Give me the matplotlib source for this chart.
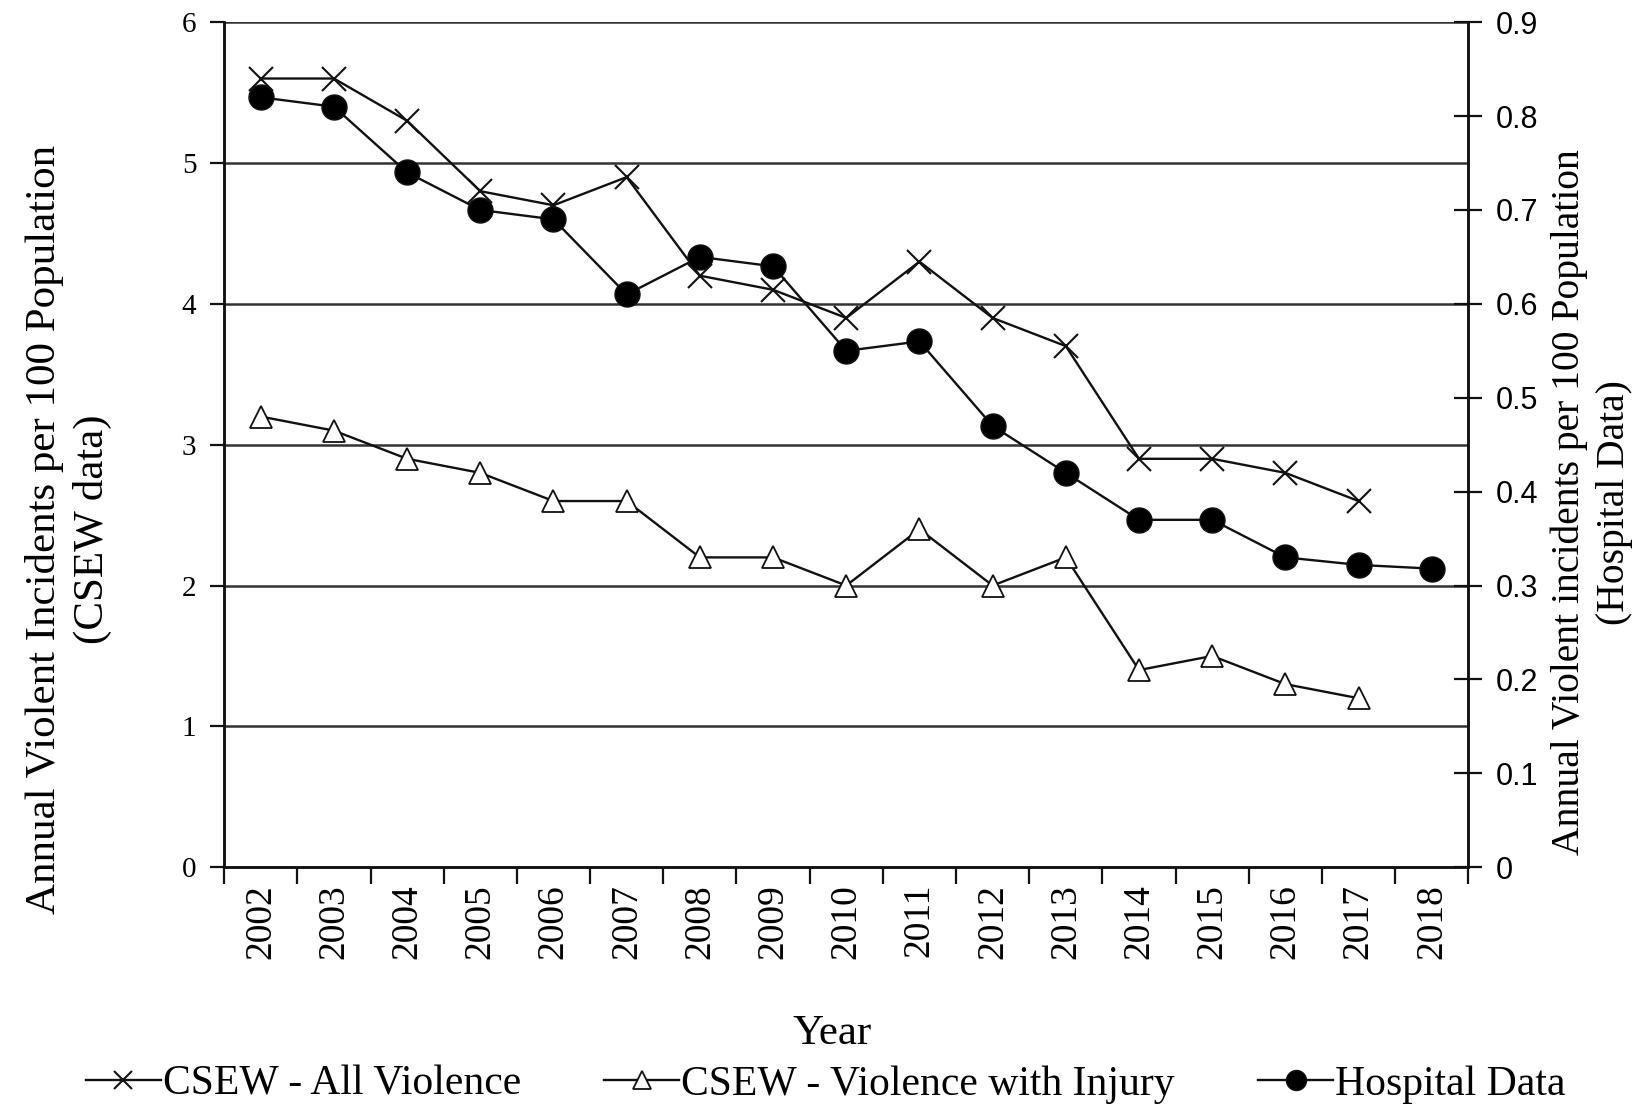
import numpy as np
import matplotlib
matplotlib.use("Agg")
import matplotlib.pyplot as plt

years = [str(y) for y in range(2002, 2019)]
all_violence = [5.6, 5.6, 5.3, 4.8, 4.7, 4.9, 4.2, 4.1, 3.9, 4.3, 3.9, 3.7, 2.9, 2.9, 2.8, 2.6]
with_injury = [3.2, 3.1, 2.9, 2.8, 2.6, 2.6, 2.2, 2.2, 2.0, 2.4, 2.0, 2.2, 1.4, 1.5, 1.3, 1.2]
hospital = [0.82, 0.81, 0.74, 0.70, 0.69, 0.61, 0.65, 0.64, 0.55, 0.56, 0.47, 0.42, 0.37, 0.37, 0.33, 0.322, 0.318]
left_ticks = [0, 1, 2, 3, 4, 5, 6]
right_ticks = [0, 0.1, 0.2, 0.3, 0.4, 0.5, 0.6, 0.7, 0.8, 0.9]
right_labels = ["0", "0.1", "0.2", "0.3", "0.4", "0.5", "0.6", "0.7", "0.8", "0.9"]

serif = "Liberation Serif"
sans = "Liberation Sans"
plt.rcParams["font.family"] = serif

fig = plt.figure(figsize=(16.48, 11.09), dpi=100)
ax = fig.add_axes([0.136, 0.218, 0.755, 0.762])
ax2 = ax.twinx()

x = np.arange(len(years))
lc = "#111111"

for v in left_ticks[1:]:
    ax.axhline(v, color="#333333", lw=1.8, zorder=0)

l1, = ax.plot(x[:len(all_violence)], all_violence, color=lc, lw=1.7, marker="x",
              ms=17, mew=1.5, label="CSEW - All Violence")
l2, = ax.plot(x[:len(with_injury)], with_injury, color=lc, lw=1.7, marker="^",
              ms=16, mew=1.3, mfc="white", label="CSEW - Violence with Injury")
l3, = ax2.plot(x, hospital, color=lc, lw=1.7, marker="o", ms=18,
               mfc="black", label="Hospital Data")

ax.set_xlim(-0.5, len(years) - 0.5)
ax.set_ylim(0, 6)
ax2.set_ylim(0, 0.9)

ax.set_xticks(np.arange(-0.5, len(years), 1.0))
ax.set_xticklabels([])
ax.set_xticks(x, minor=True)
ax.set_xticklabels(years, minor=True, rotation=90, fontsize=27)
ax.tick_params(axis="x", which="major", direction="out", length=12, width=1.6, color=lc)
ax.tick_params(axis="x", which="minor", length=0, pad=12)

ax.set_yticks(left_ticks)
ax.set_yticklabels([str(t) for t in left_ticks], fontsize=21)
ax.tick_params(axis="y", direction="out", length=10, width=1.6, color=lc, pad=10)

ax2.set_yticks(right_ticks)
ax2.set_yticklabels(right_labels, fontsize=22, family=sans)
ax2.tick_params(axis="y", direction="inout", length=20, width=1.6, color=lc, pad=10)

for a in (ax, ax2):
    a.spines["top"].set_visible(False)
    for s in ("left", "right", "bottom"):
        a.spines[s].set_linewidth(1.8)
        a.spines[s].set_color(lc)

ax.set_ylabel("Annual Violent Incidents per 100 Population\n(CSEW data)",
              fontsize=31, linespacing=1.3)
ax.yaxis.set_label_coords(-0.09, 0.40)
ax2.set_ylabel("Annual Violent incidents per 100 Population\n(Hospital Data)",
               fontsize=28.5, rotation=90, linespacing=1.3)
ax2.yaxis.set_label_coords(1.066, 0.432)
ax.set_xlabel("Year", fontsize=31)
ax.xaxis.set_label_coords(0.489, -0.174)

fig.legend(handles=[l1, l2, l3], loc="center", bbox_to_anchor=(0.501, 0.022),
           ncol=3, frameon=False, fontsize=30, handlelength=1.8, handletextpad=0.05,
           columnspacing=2.0, markerscale=0.8)

fig.savefig("out.png", dpi=100)
